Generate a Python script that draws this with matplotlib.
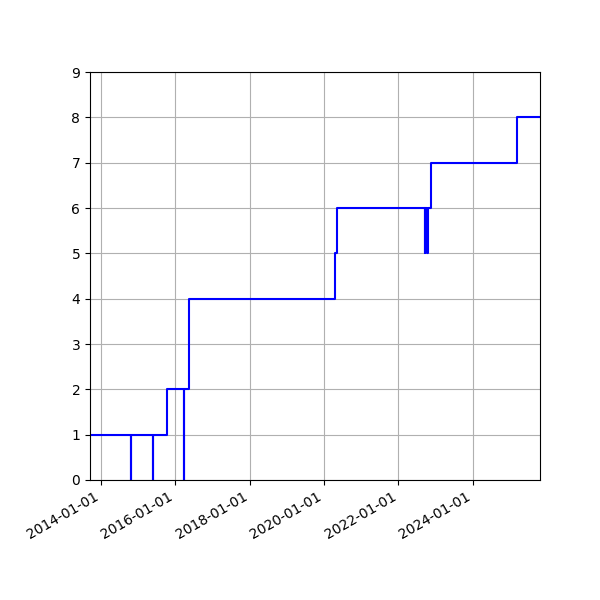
import matplotlib
matplotlib.use("Agg")
import matplotlib.pyplot as plt
import matplotlib.dates as mdates
import pandas as pd

# step points (value holds until next date)
dates = [
    "2013-09-15", "2014-10-20", "2014-10-22", "2015-05-24", "2015-05-26",
    "2015-10-14", "2016-03-29", "2016-03-31", "2016-05-17", "2020-04-18",
    "2020-05-10", "2022-09-18", "2022-09-22", "2022-10-10", "2022-10-16",
    "2022-11-13", "2025-03-07", "2025-10-22",
]
values = [1, 0, 1, 0, 1, 2, 0, 2, 4, 5, 6, 5, 6, 5, 6, 7, 8, 8]

x = pd.to_datetime(dates)

fig, ax = plt.subplots(figsize=(6, 6), dpi=100)
ax.plot(x, values, color="blue", drawstyle="steps-post", linewidth=1.5)
ax.set_xlim(x[0], x[-1])
ax.set_ylim(0, 9)
ax.grid(True)
ax.xaxis.set_major_locator(mdates.YearLocator(2))
ax.xaxis.set_major_formatter(mdates.DateFormatter("%Y-%m-%d"))
fig.autofmt_xdate()
fig.subplots_adjust(left=0.15, right=0.9, top=0.88, bottom=0.2)

plt.savefig("out.png", dpi=100)
